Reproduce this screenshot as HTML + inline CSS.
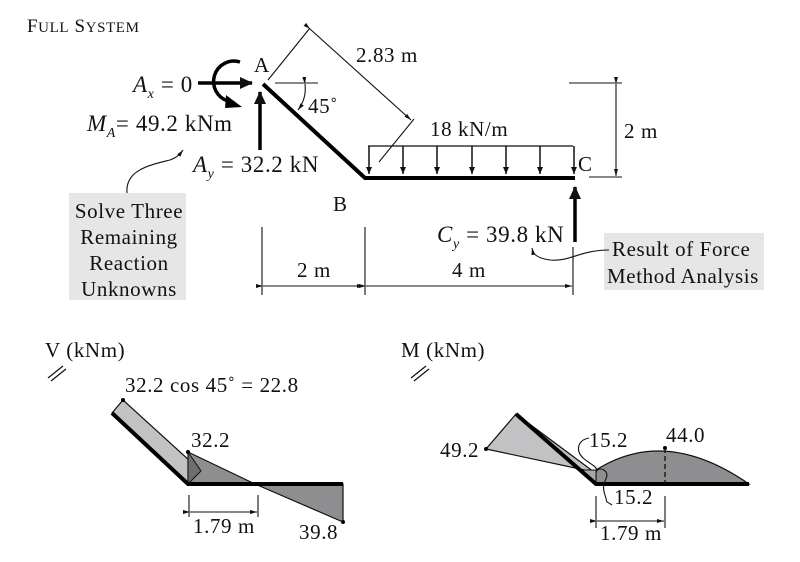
<!DOCTYPE html>
<html><head><meta charset="utf-8"><style>
html,body{margin:0;padding:0;background:#fff}
svg{display:block}
text{font-family:"Liberation Serif",serif;fill:#111;letter-spacing:0.6px}
</style></head><body>
<svg width="800" height="562" viewBox="0 0 800 562" xmlns="http://www.w3.org/2000/svg">
<defs>
<marker id="ah" markerWidth="8" markerHeight="8" refX="7" refY="4" orient="auto" markerUnits="userSpaceOnUse"><path d="M0,1 L7,4 L0,7 Z" fill="#111"/></marker>
<marker id="as" markerWidth="8" markerHeight="6" refX="7" refY="3" orient="auto" markerUnits="userSpaceOnUse"><path d="M0,1 L7,3 L0,5 Z" fill="#111"/></marker>
<marker id="big" markerWidth="14" markerHeight="14" refX="12" refY="7" orient="auto" markerUnits="userSpaceOnUse"><path d="M0,1 L13,7 L0,13 Z" fill="#111"/></marker>
</defs>
<text x="27" y="32" font-size="19">F<tspan font-size="15">ULL</tspan> S<tspan font-size="15">YSTEM</tspan></text>

<rect x="69" y="193" width="117" height="107" fill="#e6e6e6"/>
<rect x="604" y="233" width="160" height="57" fill="#e6e6e6"/>
<g font-size="21" text-anchor="middle">
<text x="129" y="218">Solve Three</text>
<text x="129" y="244">Remaining</text>
<text x="129" y="270">Reaction</text>
<text x="129" y="296">Unknowns</text>
</g>
<g font-size="21">
<text x="612" y="256">Result of Force</text>
<text x="607" y="283" letter-spacing="0.9">Method Analysis</text>
</g>

<polyline points="263,84 365,178 575,178" fill="none" stroke="#000" stroke-width="4"/>
<line x1="368" y1="146" x2="573" y2="146" stroke="#111" stroke-width="1.2"/>
<g stroke="#111" stroke-width="1.5" marker-end="url(#ah)">
<line x1="369" y1="146" x2="369" y2="174"/><line x1="403" y1="146" x2="403" y2="174"/>
<line x1="437" y1="146" x2="437" y2="174"/><line x1="472" y1="146" x2="472" y2="174"/>
<line x1="506" y1="146" x2="506" y2="174"/><line x1="540" y1="146" x2="540" y2="174"/>
<line x1="574" y1="146" x2="574" y2="174"/>
</g>
<text x="430" y="136" font-size="21">18 kN/m</text>
<text x="578" y="171" font-size="21">C</text>
<text x="254" y="72" font-size="21">A</text>
<text x="333" y="211" font-size="21">B</text>

<g stroke="#111" stroke-width="1.1" fill="none">
<line x1="268" y1="80" x2="310" y2="28"/>
<line x1="379" y1="162" x2="414" y2="119"/>
<line x1="310" y1="29" x2="411" y2="120" marker-start="url(#as)" marker-end="url(#as)"/>
<line x1="275" y1="83" x2="318" y2="83"/>
<path d="M305,84 A36,36 0 0 1 298,110" marker-start="url(#as)" marker-end="url(#as)"/>
<line x1="569" y1="83" x2="622" y2="83"/>
<line x1="589" y1="177" x2="622" y2="177"/>
<line x1="616" y1="84" x2="616" y2="176" marker-start="url(#as)" marker-end="url(#as)"/>
<line x1="262" y1="227" x2="262" y2="295"/>
<line x1="365" y1="227" x2="365" y2="295"/>
<line x1="573" y1="247" x2="573" y2="295"/>
<line x1="263" y1="286" x2="364" y2="286" marker-start="url(#as)" marker-end="url(#as)"/>
<line x1="366" y1="286" x2="572" y2="286" marker-start="url(#as)" marker-end="url(#as)"/>
</g>
<text x="356" y="62" font-size="21">2.83 m</text>
<text x="308" y="113" font-size="21">45˚</text>
<text x="624" y="138" font-size="21">2 m</text>
<text x="297" y="277" font-size="21">2 m</text>
<text x="452" y="277" font-size="21">4 m</text>

<line x1="198" y1="83" x2="252" y2="83" stroke="#000" stroke-width="3.5" marker-end="url(#big)"/>
<path d="M240,62 A19,19 0 1 0 228,101" fill="none" stroke="#000" stroke-width="3.5"/>
<path d="M226,95 L242,107 L225,108 Z" fill="#000"/>
<line x1="260" y1="150" x2="260" y2="92" stroke="#000" stroke-width="3.5" marker-end="url(#big)"/>
<line x1="575" y1="242" x2="575" y2="187" stroke="#000" stroke-width="3.5" marker-end="url(#big)"/>
<text x="133" y="92" font-size="23"><tspan font-style="italic">A</tspan><tspan font-size="14" font-style="italic" dy="6">x</tspan><tspan dy="-6"> = 0</tspan></text>
<text x="87" y="131" font-size="23"><tspan font-style="italic">M</tspan><tspan font-size="14" font-style="italic" dy="6">A</tspan><tspan dy="-6">= 49.2 kNm</tspan></text>
<text x="193" y="172" font-size="23"><tspan font-style="italic">A</tspan><tspan font-size="14" font-style="italic" dy="6">y</tspan><tspan dy="-6"> = 32.2 kN</tspan></text>
<text x="437" y="242" font-size="23"><tspan font-style="italic">C</tspan><tspan font-size="14" font-style="italic" dy="6">y</tspan><tspan dy="-6"> = 39.8 kN</tspan></text>
<g fill="none" stroke="#111" stroke-width="1.1">
<path d="M127,193 C125,170 150,165 170,160 C178,157 180,154 183,150" marker-end="url(#as)"/>
<path d="M609,250 C580,250 570,262 550,260 C535,258 533,253 532,248" marker-end="url(#as)"/>
</g>

<text x="45" y="357" font-size="21">V (kNm)</text>
<g stroke="#111" stroke-width="1.2"><line x1="48" y1="378" x2="63" y2="366"/><line x1="51" y1="381" x2="66" y2="369"/></g>
<polygon points="112,413 123,400 201,471 188,484" fill="#c2c2c4" stroke="#111" stroke-width="1.2"/>
<polygon points="188,452 255,484 188,484" fill="#8e8e90" stroke="#111" stroke-width="1.2"/>
<polygon points="188,452 201,471 188,484" fill="#6e6e70" stroke="#111" stroke-width="1"/>
<polygon points="255,484 343,484 343,522" fill="#8e8e90" stroke="#111" stroke-width="1.2"/>
<polyline points="112,413 188,484 343,484" fill="none" stroke="#000" stroke-width="4"/>
<circle cx="123" cy="400" r="2" fill="#000"/><circle cx="188" cy="452" r="2" fill="#000"/><circle cx="343" cy="522" r="2" fill="#000"/>
<text x="125" y="392" font-size="21">32.2 cos 45˚ = 22.8</text>
<text x="191" y="447" font-size="21">32.2</text>
<text x="193" y="533" font-size="21">1.79 m</text>
<text x="299" y="539" font-size="21">39.8</text>
<g stroke="#111" stroke-width="1.1"><line x1="189" y1="495" x2="189" y2="517"/><line x1="258" y1="495" x2="258" y2="517"/>
<line x1="190" y1="512" x2="257" y2="512" marker-start="url(#as)" marker-end="url(#as)"/></g>

<text x="401" y="357" font-size="21">M (kNm)</text>
<g stroke="#111" stroke-width="1.2"><line x1="411" y1="378" x2="426" y2="366"/><line x1="414" y1="381" x2="429" y2="369"/></g>
<polygon points="516,414 486,449 594,472" fill="#c2c2c4" stroke="#111" stroke-width="1.2"/>
<path d="M596,470 Q665,426 749,484 L596,484 Z" fill="#8e8e90" stroke="#111" stroke-width="1.2"/>
<polygon points="582,470 596,470 596,484" fill="#a8a8aa" stroke="#111" stroke-width="1"/>
<line x1="665" y1="448" x2="665" y2="484" stroke="#111" stroke-width="1.3" stroke-dasharray="5,3"/>
<polyline points="516,414 596,484 749,484" fill="none" stroke="#000" stroke-width="4"/>
<circle cx="486" cy="449" r="2" fill="#000"/><circle cx="665" cy="448" r="2" fill="#000"/>
<g fill="none" stroke="#111" stroke-width="1.1">
<path d="M589,438 C578,440 575,450 583,458 C590,464 596,466 597,470"/>
<path d="M605,495 C608,505 605,500 612,505 M605,495 C600,482 610,478 606,472 C603,468 598,468 596,472"/>
</g>
<text x="589" y="447" font-size="21">15.2</text>
<text x="666" y="442" font-size="21">44.0</text>
<text x="440" y="457" font-size="21">49.2</text>
<text x="614" y="504" font-size="21">15.2</text>
<text x="600" y="540" font-size="21">1.79 m</text>
<g stroke="#111" stroke-width="1.1"><line x1="596" y1="496" x2="596" y2="528"/><line x1="665" y1="496" x2="665" y2="528"/>
<line x1="597" y1="521" x2="664" y2="521" marker-start="url(#as)" marker-end="url(#as)"/></g>
</svg>
</body></html>
